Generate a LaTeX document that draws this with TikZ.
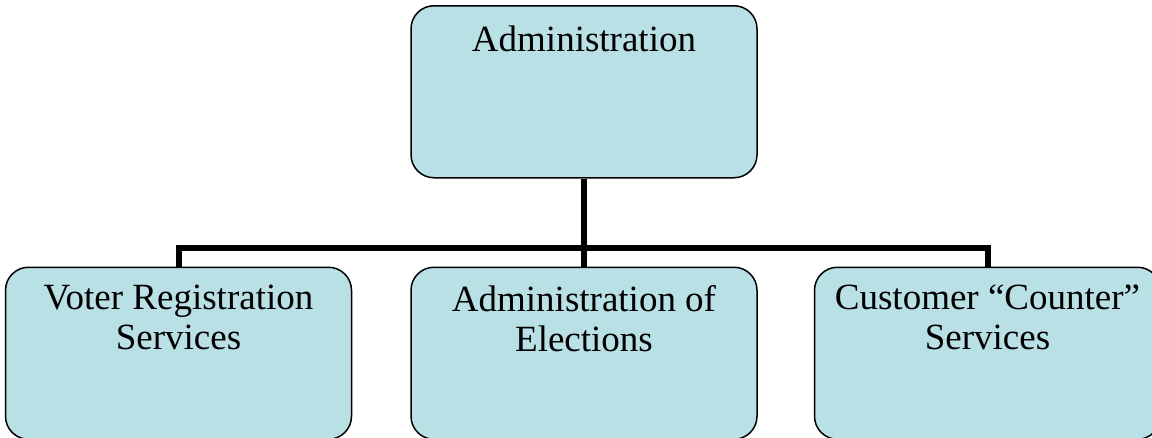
\documentclass[tikz,border=0pt]{standalone}
\usepackage{fontspec}
\setmainfont{Liberation Serif}
\usetikzlibrary{positioning, calc}
\definecolor{boxfill}{RGB}{185,224,228}

\begin{document}
\begin{tikzpicture}[x=1pt,y=-1pt,
    unit/.style={draw=black,line width=1.5pt,fill=boxfill,rounded corners=23pt,minimum width=346pt,minimum height=172pt,inner sep=0pt,font=\fontsize{37}{40}\selectfont},
    link/.style={line width=6pt}]
    \useasboundingbox (0,0) rectangle (1152,437);
    \node[unit,anchor=north] (admin) at (584,5) {\parbox[t][132pt][t]{340pt}{\centering Administration}};
    \node[unit,below=88pt of admin] (elect) {\parbox[t][136pt][t]{340pt}{\centering Administration of\\ Elections}};
    \node[unit,left=58pt of elect] (voter) {\parbox[t][136pt][t]{340pt}{\centering Voter Registration\\ Services}};
    \node[unit,right=56pt of elect] (counter) {\parbox[t][136pt][t]{340pt}{\centering Customer “Counter”\\ Services}};
    % connectors
    \coordinate (bus) at ($(admin.south)!0.79!(elect.north)$);
    \draw[link] (admin.south) -- (elect.north);
    \draw[link] (voter.north) |- (bus) -| (counter.north);
\end{tikzpicture}
\end{document}
